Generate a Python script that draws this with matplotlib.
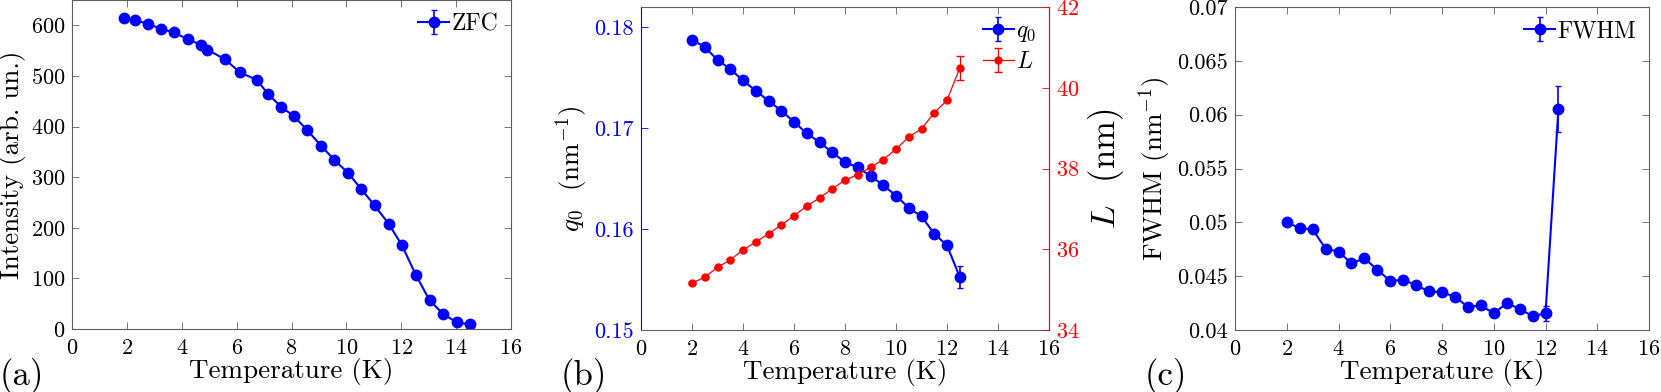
import matplotlib
matplotlib.use("Agg")
import matplotlib.pyplot as plt

plt.rcParams["font.family"] = "cmr10"
plt.rcParams["mathtext.fontset"] = "cm"
plt.rcParams["axes.formatter.use_mathtext"] = True

# (a) integrated intensity, ZFC
T_a = [1.89, 2.3, 2.77, 3.24, 3.72, 4.22, 4.7, 4.93, 5.57, 6.12, 6.74, 7.15, 7.62, 8.1,
       8.57, 9.08, 9.56, 10.05, 10.55, 11.03, 11.54, 12.03, 12.53, 13.03, 13.52, 14.02, 14.52]
I_a = [614, 610, 603, 593, 586, 572, 562, 552, 533, 507, 492, 464, 439, 420,
       393, 362, 334, 309, 276, 244, 208, 165, 107, 57, 30, 13, 9]

# (b) peak position and correlation length
T_b = [2, 2.5, 3, 3.5, 4, 4.5, 5, 5.5, 6, 6.5, 7, 7.5, 8, 8.5, 9, 9.5, 10, 10.5, 11, 11.5, 12, 12.5]
q0 = [0.17878, 0.17802, 0.17677, 0.17584, 0.17472, 0.17370, 0.17271, 0.17172, 0.17063, 0.16947,
      0.16861, 0.16759, 0.16663, 0.16611, 0.16525, 0.16436, 0.16330, 0.16211, 0.16125, 0.15954,
      0.15838, 0.15525]
q0_err = [0.0001] * 21 + [0.0011]
L = [35.16, 35.31, 35.55, 35.74, 35.98, 36.18, 36.38, 36.60, 36.83, 37.07, 37.27, 37.50,
     37.71, 37.85, 38.03, 38.22, 38.48, 38.78, 38.98, 39.38, 39.69, 40.49]
L_err = [0.02] * 21 + [0.29]

# (c) FWHM
T_c = T_b
fwhm = [0.05003, 0.04944, 0.04935, 0.04755, 0.04728, 0.04619, 0.04666, 0.04560, 0.04455, 0.04467,
        0.04415, 0.04359, 0.04350, 0.04310, 0.04214, 0.04229, 0.04155, 0.04248, 0.04198, 0.04127,
        0.04155, 0.06053]
fwhm_err = [0.0003, 0.0003, 0.0003, 0.0002, 0.0002, 0.0002, 0.0002, 0.0002, 0.0002, 0.0002,
            0.0002, 0.0002, 0.0002, 0.0002, 0.0002, 0.0002, 0.0002, 0.0002, 0.0002, 0.0002,
            0.0007, 0.00215]

W, H = 1661, 392
fig = plt.figure(figsize=(W / 100, H / 100), dpi=100)

def box(l, r, t, b):
    return [l / W, 1 - b / H, (r - l) / W, (b - t) / H]

frame = "#5f5f5f"
tick_fs = 16
lab_fs = 19.5
leg_fs = 17

def style(ax):
    for s in ax.spines.values():
        s.set_color(frame)
        s.set_linewidth(0.8)
    ax.tick_params(direction="in", length=5, width=0.6, color=frame,
                   labelsize=tick_fs, top=True, right=True)
    ax.tick_params(axis="x", pad=7)
    ax.tick_params(axis="y", pad=5)
    ax.set_xlim(0, 16)
    ax.set_xticks(range(0, 17, 2))
    ax.set_xlabel("Temperature (K)", fontsize=lab_fs, labelpad=0)

blue = "#0000ff"
red = "#ff0000"
leg_kw = dict(loc="upper right", frameon=False, fontsize=leg_fs, handlelength=1.3,
              handletextpad=0.1, borderaxespad=0.25, borderpad=0.3)

# panel a
ax1 = fig.add_axes(box(72, 511, 0, 329))
style(ax1)
ax1.errorbar(T_a, I_a, yerr=[2] * len(I_a), color=blue, marker="o", ms=7.5, lw=1.5,
             capsize=2, elinewidth=1.2, label="ZFC")
ax1.set_ylim(0, 650)
ax1.set_yticks(range(0, 601, 100))
ax1.set_ylabel("Intensity (arb. un.)", fontsize=lab_fs, labelpad=3)
ax1.legend(**leg_kw)
fig.text(0.0, -0.005, "(a)", fontsize=25, ha="left", va="bottom")

# panel b
ax2 = fig.add_axes(box(641, 1049, 7, 330))
style(ax2)
ax2.tick_params(right=False)
h1 = ax2.errorbar(T_b, q0, yerr=q0_err, color=blue, marker="o", ms=7.5, lw=1.5,
                  capsize=2, elinewidth=1.2, label="$q_0$")
ax2.set_ylim(0.15, 0.182)
ax2.set_yticks([0.15, 0.16, 0.17, 0.18])
ax2.set_yticklabels(["0.15", "0.16", "0.17", "0.18"])
ax2.tick_params(axis="y", colors=blue, labelcolor=blue)
ax2.spines["left"].set_color(blue)
ax2.set_ylabel("$q_0$  (nm$^{-1}$)", fontsize=lab_fs, labelpad=3)

ax3 = ax2.twinx()
h2 = ax3.errorbar(T_b, L, yerr=L_err, color=red, marker="o", ms=5, lw=0.9,
                  capsize=3, elinewidth=0.9, label="$L$")
ax3.set_ylim(34, 42)
ax3.set_yticks([34, 36, 38, 40, 42])
for s in ax3.spines.values():
    s.set_visible(False)
ax3.spines["right"].set_visible(True)
ax3.spines["right"].set_color(red)
ax3.spines["right"].set_linewidth(0.8)
ax3.tick_params(axis="y", direction="in", length=5, width=0.6, colors=red,
                labelcolor=red, labelsize=tick_fs, pad=5)
ax3.set_ylabel("$L$  (nm)", fontsize=25, labelpad=5)
ax2.legend([h1, h2], ["$q_0$", "$L$"], labelspacing=0.3, **leg_kw)
fig.text(561 / W, -0.005, "(b)", fontsize=25, ha="left", va="bottom")

# panel c
ax4 = fig.add_axes(box(1235, 1649, 7, 330))
style(ax4)
ax4.errorbar(T_c, fwhm, yerr=fwhm_err, color=blue, marker="o", ms=7.5, lw=1.5,
             capsize=2, elinewidth=1.2, label="FWHM")
ax4.set_ylim(0.04, 0.07)
ax4.set_yticks([0.04, 0.045, 0.05, 0.055, 0.06, 0.065, 0.07])
ax4.set_yticklabels(["0.04", "0.045", "0.05", "0.055", "0.06", "0.065", "0.07"])
ax4.set_ylabel("FWHM (nm$^{-1}$)", fontsize=lab_fs, labelpad=3)
ax4.legend(**leg_kw)
fig.text(1145 / W, -0.005, "(c)", fontsize=25, ha="left", va="bottom")

fig.savefig("out.png", dpi=100)
